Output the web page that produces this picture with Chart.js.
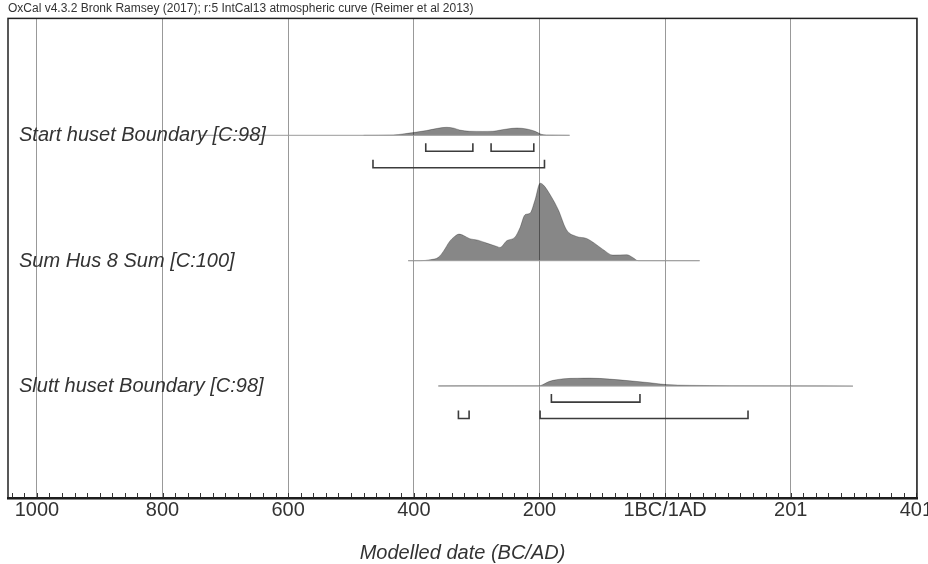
<!DOCTYPE html>
<html>
<head>
<meta charset="utf-8">
<script src="https://cdn.jsdelivr.net/npm/chart.js@4.4.1/dist/chart.umd.min.js"></script>
<style>
  html, body { margin: 0; padding: 0; background: #fff; }
  #wrap { width: 928px; height: 564px; }
</style>
</head>
<body>
<div id="wrap"><canvas id="oxcalChart" width="928" height="564"></canvas></div>
<script>
// Years are on a BC/AD axis: negative = BC, 0 = 1BC/1AD boundary
const tickValues = [-1000, -800, -600, -400, -200, 0, 200, 400];

// Row names, top to bottom, and the row each one sits on
const rowNames = ['Start huset Boundary [C:98]', 'Sum Hus 8 Sum [C:100]', 'Slutt huset Boundary [C:98]'];
const rowLevels = [3, 2, 1];

// Extent of the thin line under each distribution
const rowSpans = [[-740, -152], [-409, 55], [-361, 299]];

// Posterior densities (relative, peak of the sum = 1)
const startYears = [-480, -433, -415, -401, -380, -362, -348, -336, -327, -311, -290, -274, -262, -252, -236, -220, -207, -197, -189, -170, -152];
const startProb  = [0, 0.004, 0.02, 0.035, 0.061, 0.09, 0.103, 0.092, 0.068, 0.052, 0.05, 0.052, 0.068, 0.081, 0.094, 0.081, 0.052, 0.013, 0.004, 0.002, 0];

const sumYears = [-409, -390, -374, -361, -353, -343, -335, -328, -321, -311, -298, -284, -268, -263, -252, -239, -231, -223, -215, -207, -199, -194, -181, -170, -157, -141, -125, -112, -99, -83, -61, -51, -43, 55];
const sumProb  = [0, 0, 0.013, 0.043, 0.12, 0.249, 0.313, 0.343, 0.326, 0.284, 0.265, 0.227, 0.184, 0.171, 0.258, 0.304, 0.425, 0.593, 0.613, 0.786, 1, 0.979, 0.825, 0.657, 0.4, 0.313, 0.287, 0.223, 0.146, 0.072, 0.077, 0.039, 0, 0];

const sluttYears = [-361, -320, -280, -240, -201, -199, -184, -162, -140, -120, -88, -56, -24, 2, 39, 103, 200, 299];
const sluttProb  = [0.003, 0.006, 0.005, 0.005, 0.005, 0.006, 0.061, 0.094, 0.101, 0.103, 0.09, 0.068, 0.043, 0.019, 0.01, 0.006, 0.003, 0];

// Highest posterior density ranges
const start68 = [[-381, -306], [-277, -209]];
const start95 = [[-465, -192]];
const slutt68 = [[-181, -40]];
const slutt95 = [[-329, -312], [-199, 132]];

const DIST_SCALE = 0.618;   // row units for a density of 1
const OFF68 = 0.1275, OFF95 = 0.259, TICK_H = 0.064;

function distData(years, prob, level) {
  return years.map((x, i) => ({ x: x, y: level + prob[i] * DIST_SCALE }));
}

function bracket(range, level, off) {
  const y = level - off;
  return {
    data: [{ x: range[0], y: y + TICK_H }, { x: range[0], y: y }, { x: range[1], y: y }, { x: range[1], y: y + TICK_H }],
    borderColor: '#3c3c3c', borderWidth: 1.6, pointRadius: 0, fill: false, tension: 0
  };
}

const datasets = [];

// thin baselines
rowSpans.forEach((s, i) => {
  datasets.push({
    data: [{ x: s[0], y: rowLevels[i] }, { x: s[1], y: rowLevels[i] }],
    borderColor: '#9a9a9a', borderWidth: 1, pointRadius: 0, fill: false
  });
});

// filled distributions
[[startYears, startProb], [sumYears, sumProb], [sluttYears, sluttProb]].forEach((d, i) => {
  datasets.push({
    data: distData(d[0], d[1], rowLevels[i]),
    borderColor: 'rgba(0,0,0,0.35)', borderWidth: 0.8,
    backgroundColor: 'rgba(0,0,0,0.47)',
    fill: { value: rowLevels[i] },
    pointRadius: 0, cubicInterpolationMode: 'monotone'
  });
});

// range brackets
start68.forEach(r => datasets.push(bracket(r, rowLevels[0], OFF68)));
start95.forEach(r => datasets.push(bracket(r, rowLevels[0], OFF95)));
slutt68.forEach(r => datasets.push(bracket(r, rowLevels[2], OFF68)));
slutt95.forEach(r => datasets.push(bracket(r, rowLevels[2], OFF95)));

function yearLabel(v) {
  if (v < 0) return String(-v);
  if (v === 0) return '1BC/1AD';
  return String(v + 1);
}

// frame, minor ticks and row names
const oxcalDecor = {
  id: 'oxcalDecor',
  afterDatasetsDraw(chart) {
    const { ctx, chartArea: a, scales: { x, y } } = chart;
    ctx.save();
    ctx.strokeStyle = '#333';
    ctx.lineWidth = 1;
    for (let v = -1040; v <= 400; v += 20) {
      const px = Math.round(x.getPixelForValue(v)) + 0.5;
      ctx.beginPath();
      ctx.moveTo(px, a.bottom);
      ctx.lineTo(px, a.bottom - 5);
      ctx.stroke();
    }
    ctx.strokeStyle = '#222';
    ctx.lineWidth = 1.5;
    ctx.strokeRect(a.left, a.top, a.right - a.left, a.bottom - a.top);

    ctx.fillStyle = '#333';
    ctx.font = 'italic 20px "Liberation Sans", Arial, sans-serif';
    ctx.textBaseline = 'alphabetic';
    rowNames.forEach((name, i) => {
      ctx.fillText(name, a.left + 11, y.getPixelForValue(rowLevels[i]) + 6);
    });
    ctx.restore();
  }
};

new Chart(document.getElementById('oxcalChart'), {
  type: 'line',
  data: { datasets: datasets },
  options: {
    responsive: false,
    animation: false,
    layout: { padding: { left: 8, right: 11, top: 0, bottom: 0 }, autoPadding: false },
    plugins: {
      legend: { display: false },
      tooltip: { enabled: false },
      title: {
        display: true,
        align: 'start',
        text: 'OxCal v4.3.2 Bronk Ramsey (2017); r:5 IntCal13 atmospheric curve (Reimer et al 2013)',
        color: '#333',
        font: { family: '"Liberation Sans", Arial, sans-serif', size: 12, weight: 'normal', lineHeight: 1.2 },
        padding: { top: 1, bottom: 3 }
      }
    },
    scales: {
      x: {
        type: 'linear',
        min: -1046,
        max: 401,
        afterBuildTicks(scale) { scale.ticks = tickValues.map(v => ({ value: v })); },
        // let the last label run off the canvas edge instead of shrinking the plot
        afterFit(scale) { scale.paddingLeft = 0; scale.paddingRight = 0; },
        grid: { color: '#999', lineWidth: 1, drawTicks: false },
        border: { display: true, color: '#111', width: 2.5 },
        ticks: {
          callback: v => yearLabel(v),
          color: '#333',
          padding: 2,
          maxRotation: 0,
          autoSkip: false,
          font: { family: '"Liberation Sans", Arial, sans-serif', size: 20, lineHeight: 1 }
        },
        title: {
          display: true,
          text: 'Modelled date (BC/AD)',
          color: '#333',
          font: { family: '"Liberation Sans", Arial, sans-serif', size: 20, style: 'italic', lineHeight: 1 },
          padding: { top: 21, bottom: 1 }
        }
      },
      y: {
        type: 'linear',
        display: false,
        min: 0.1076,
        max: 3.9323
      }
    }
  },
  plugins: [oxcalDecor]
});
</script>
</body>
</html>
